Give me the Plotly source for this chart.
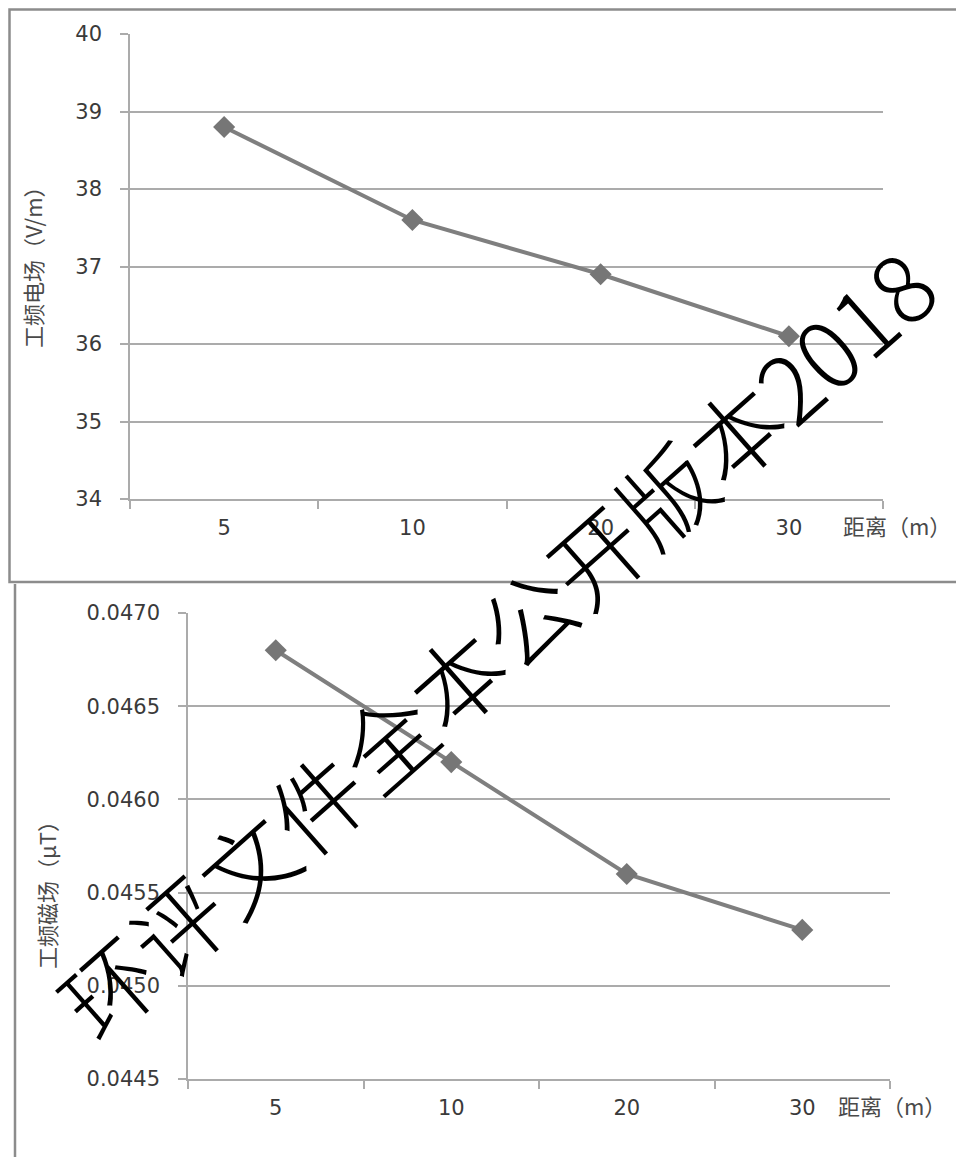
import plotly.graph_objects as go

W, H = 964, 1157
OFF = 8  # page body margin

distances = ["5", "10", "20", "30"]
e_field = [38.8, 37.6, 36.9, 36.1]
b_field = [0.0468, 0.0462, 0.0456, 0.0453]

e_ticks = [34, 35, 36, 37, 38, 39, 40]
b_ticks = [0.0445, 0.0450, 0.0455, 0.0460, 0.0465, 0.0470]
b_tick_text = ["0.0445", "0.0450", "0.0455", "0.0460", "0.0465", "0.0470"]

def px(x):
    return (x - OFF) / W

def py(y):
    return 1 - (y - OFF) / H

LINE = "#7f7f7f"
GRID = "#ababab"
TXT = "#3a3a3a"
FONT = "Noto Sans CJK SC"
NUMFONT = "DejaVu Sans"

fig = go.Figure()
fig.add_trace(go.Scatter(x=distances, y=e_field, mode="lines+markers",
                         line=dict(color=LINE, width=4),
                         marker=dict(symbol="diamond", size=17, color="#767676"),
                         xaxis="x", yaxis="y", showlegend=False))
fig.add_trace(go.Scatter(x=distances, y=b_field, mode="lines+markers",
                         line=dict(color=LINE, width=4),
                         marker=dict(symbol="diamond", size=17, color="#767676"),
                         xaxis="x2", yaxis="y2", showlegend=False))

xcommon = dict(type="category", showgrid=False, showline=True, linecolor=GRID, linewidth=1.5,
               ticks="outside", tickson="boundaries", ticklen=8, tickcolor=GRID, tickwidth=1.5,
               tickfont=dict(family=NUMFONT, size=21, color=TXT), ticklabelstandoff=9,
               zeroline=False, fixedrange=True, automargin=False)
ycommon = dict(showgrid=True, gridcolor=GRID, gridwidth=1.5, showline=True, linecolor=GRID,
               linewidth=1.5, ticks="outside", ticklen=8, tickcolor=GRID, tickwidth=1.5,
               tickfont=dict(family=NUMFONT, size=21, color=TXT), ticklabelstandoff=14,
               zeroline=False, fixedrange=True, automargin=False)

fig.update_layout(
    width=W, height=H,
    margin=dict(l=0, r=0, t=0, b=0, autoexpand=False),
    paper_bgcolor="white", plot_bgcolor="white",
    xaxis=dict(domain=[px(130), px(883)], anchor="y", range=[-0.5, 3.5], **xcommon),
    yaxis=dict(domain=[py(499), py(34)], anchor="x", range=[34, 40], tickvals=e_ticks, **ycommon),
    xaxis2=dict(domain=[px(188), px(890)], anchor="y2", range=[-0.5, 3.5], **xcommon),
    yaxis2=dict(domain=[py(1079), py(613)], anchor="x2", range=[0.0445, 0.0470],
                tickvals=b_ticks, ticktext=b_tick_text, **ycommon),
)

shapes = [
    dict(type="rect", xref="paper", yref="paper", x0=px(9.5), x1=px(985), y0=py(582), y1=py(9.5),
         line=dict(color="#8c8c8c", width=2.5), fillcolor="rgba(0,0,0,0)", layer="below"),
    dict(type="line", xref="paper", yref="paper", x0=px(15), x1=px(15), y0=py(584), y1=py(1180),
         line=dict(color="#8c8c8c", width=2.5)),
]
fig.update_layout(shapes=shapes)

ann = [
    dict(text="工频电场（V/m）", x=px(32), y=py(262), textangle=-90,
         font=dict(family=FONT, size=22, color="#4a4a4a")),
    dict(text="工频磁场（μT）", x=px(46), y=py(890), textangle=-90,
         font=dict(family=FONT, size=22, color="#4a4a4a")),
    dict(text="距离（m）", x=px(897), y=py(525),
         font=dict(family=FONT, size=22, color="#4a4a4a")),
    dict(text="距离（m）", x=px(892), y=py(1105),
         font=dict(family=FONT, size=22, color="#4a4a4a")),
    dict(text="环评文件全本公开版本2018", x=px(494), y=py(642), textangle=-41.5,
         font=dict(family=FONT, size=93, color="black", weight=300)),
]
for a in ann:
    a.update(xref="paper", yref="paper", showarrow=False, xanchor="center", yanchor="middle")
fig.update_layout(annotations=ann)

fig.write_html("out.html")
